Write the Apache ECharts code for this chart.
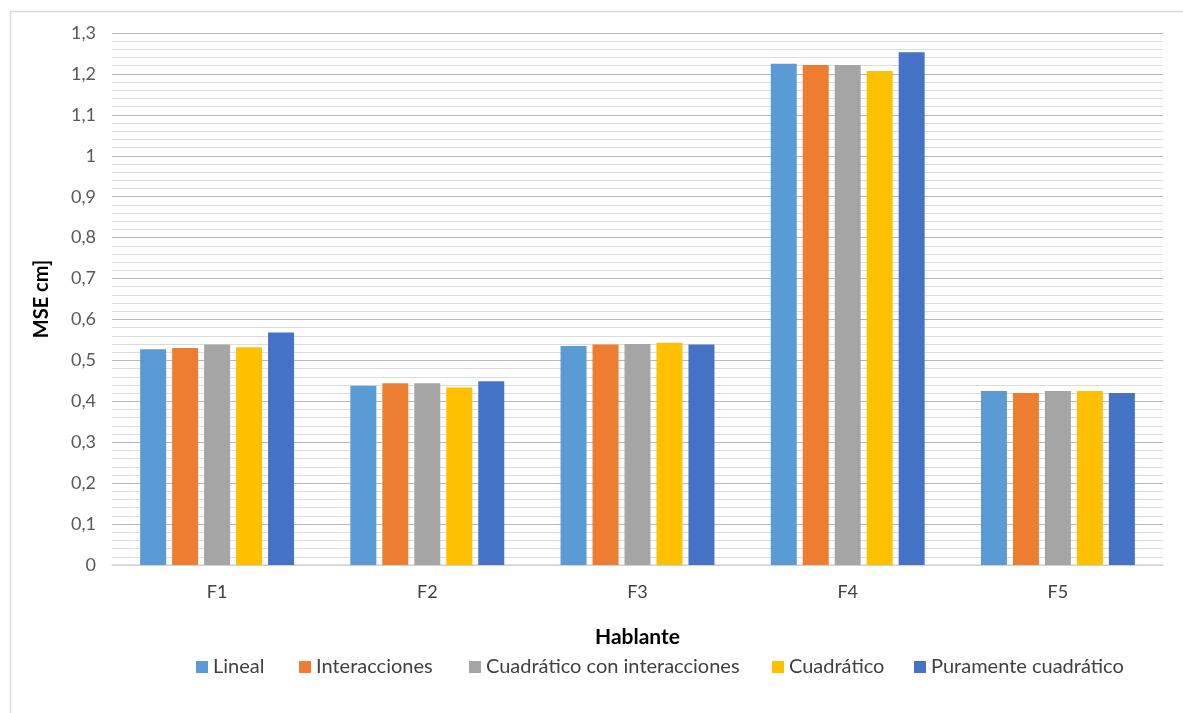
<!DOCTYPE html>
<html>
<head>
<meta charset="utf-8">
<script src="https://cdn.jsdelivr.net/npm/echarts@6/dist/echarts.min.js"></script>
<style>
  html, body { margin: 0; padding: 0; background: #ffffff; }
  #chart { width: 1183px; height: 713px; }
</style>
</head>
<body>
<div id="chart"></div>
<script>
// Hablantes (speakers) on the x axis
const categories = ['F1', 'F2', 'F3', 'F4', 'F5'];

// Model names, one bar series each
const seriesNames = ['Lineal', 'Interacciones', 'Cuadrático con interacciones', 'Cuadrático', 'Puramente cuadrático'];
const seriesColors = ['#5b9bd5', '#ed7d31', '#a5a5a5', '#ffc000', '#4472c4'];

// MSE per speaker for each model
const lineal        = [0.527, 0.438, 0.535, 1.225, 0.425];
const interacciones = [0.530, 0.444, 0.539, 1.222, 0.420];
const cuadIntera    = [0.539, 0.444, 0.540, 1.222, 0.425];
const cuadratico    = [0.532, 0.434, 0.543, 1.207, 0.425];
const puramente     = [0.568, 0.449, 0.539, 1.253, 0.420];
const seriesValues = [lineal, interacciones, cuadIntera, cuadratico, puramente];

// Y axis range
const yMin = 0, yMax = 1.3, yStep = 0.1;

const fontFamily = 'Lato, "Open Sans", sans-serif';

// Legend entries are laid out one by one along the bottom row
const legendLefts = [196, 299, 469, 772, 914];

const chart = echarts.init(document.getElementById('chart'), null, { renderer: 'canvas' });

chart.setOption({
  animation: false,
  backgroundColor: '#ffffff',
  textStyle: { fontFamily: fontFamily },
  graphic: [{
    type: 'rect',
    left: 8, top: 9,
    shape: { width: 1200, height: 720 },
    style: { fill: 'none', stroke: '#d9d9d9', lineWidth: 1.5 },
    z: -1
  }],
  grid: { left: 112, right: 20, top: 33, bottom: 148, containLabel: false },
  legend: seriesNames.map(function (name, i) {
    return {
      data: [name],
      top: 657,
      left: legendLefts[i],
      padding: 0,
      icon: 'rect',
      itemWidth: 12,
      itemHeight: 12,
      textStyle: { fontSize: 20, color: '#404040', fontFamily: fontFamily }
    };
  }),
  xAxis: {
    type: 'category',
    data: categories,
    name: 'Hablante',
    nameLocation: 'middle',
    nameGap: 62,
    nameTextStyle: { fontSize: 21, fontWeight: 'bold', color: '#000000', fontFamily: fontFamily },
    axisLine: { show: true, lineStyle: { color: '#d9d9d9', width: 1.5 } },
    axisTick: { show: false },
    axisLabel: { fontSize: 18, color: '#404040', margin: 18 }
  },
  yAxis: {
    type: 'value',
    min: yMin,
    max: yMax,
    interval: yStep,
    name: 'MSE cm]',
    nameLocation: 'middle',
    nameGap: 60,
    nameRotate: 90,
    nameTextStyle: { fontSize: 20, fontWeight: 'bold', color: '#000000', fontFamily: fontFamily },
    axisLine: { show: false },
    axisTick: { show: false },
    axisLabel: {
      fontSize: 18,
      color: '#595959',
      margin: 16,
      formatter: function (v) { return String(+v.toFixed(1)).replace('.', ','); }
    },
    splitLine: { show: true, lineStyle: { color: '#b8b8b8', width: 1.2 } },
    minorTick: { show: false, splitNumber: 5 },
    minorSplitLine: { show: true, lineStyle: { color: '#dcdcdc', width: 1.2 } }
  },
  series: seriesNames.map(function (name, i) {
    return {
      name: name,
      type: 'bar',
      data: seriesValues[i],
      barWidth: 26,
      barGap: '23%',
      itemStyle: { color: seriesColors[i] }
    };
  })
});
</script>
</body>
</html>
